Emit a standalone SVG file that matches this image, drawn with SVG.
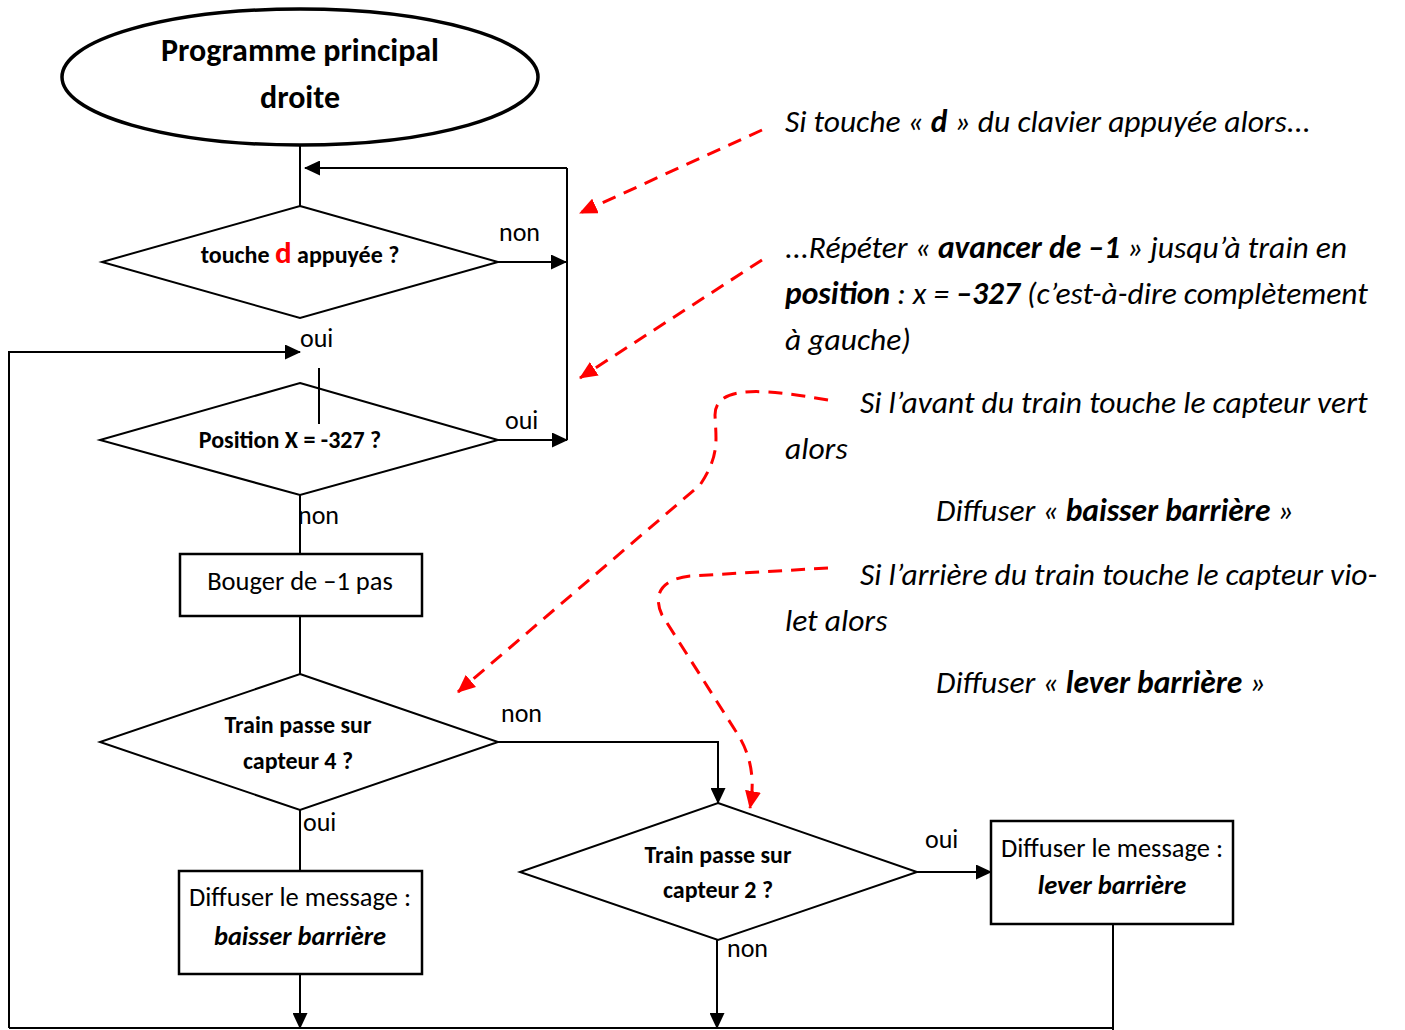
<svg xmlns="http://www.w3.org/2000/svg" width="1405" height="1030" viewBox="0 0 1405 1030">
<style>
text{font-family:Carlito,"Liberation Sans",Arial,sans-serif;fill:#000}
.shape{fill:#fff;stroke:#000;stroke-width:2}
.box{fill:#fff;stroke:#000;stroke-width:2.5}
.q{font-weight:bold;font-size:24px;text-anchor:middle}
.lbl{font-size:26px}
.bt{font-size:26.5px;text-anchor:middle}
.note{font-size:31.5px;font-style:italic}
.ln{fill:none;stroke:#000;stroke-width:2}
.red{fill:none;stroke:#f00;stroke-width:3;stroke-dasharray:14,9}
</style>
<defs>
<marker id="ab" markerWidth="16" markerHeight="15" refX="15" refY="7.5" orient="auto" markerUnits="userSpaceOnUse" viewBox="0 0 16 15"><path d="M0,0L16,7.5L0,15z" fill="#000"/></marker>
<marker id="ar" markerWidth="18" markerHeight="16" refX="17" refY="8" orient="auto" markerUnits="userSpaceOnUse" viewBox="0 0 18 16"><path d="M0,0L18,8L0,16z" fill="#f00"/></marker>
</defs>
<rect width="1405" height="1030" fill="#fff"/>

<g id="start">
<ellipse cx="300" cy="77" rx="238" ry="68" fill="#fff" stroke="#000" stroke-width="3.5"/>
<text x="300" y="61" font-size="32" font-weight="bold" text-anchor="middle">Programme principal</text>
<text x="300" y="108" font-size="32" font-weight="bold" text-anchor="middle">droite</text>
</g>

<g id="d1">
<path class="shape" d="M300,206L498,262L300,318L102,262z"/>
<text class="q" x="300" y="263">touche <tspan fill="#f00" font-size="31">d</tspan> appuyée ?</text>
</g>

<g id="d2">
<path class="shape" d="M300,383L498,440L300,495L100,440z"/>
<text class="q" x="290" y="448">Position X = -327 ?</text>
</g>

<g id="b1">
<rect class="box" x="180" y="554" width="242" height="62"/>
<text class="bt" x="300" y="590">Bouger de –1 pas</text>
</g>

<g id="d3">
<path class="shape" d="M300,674L498,742L300,810L100,742z"/>
<text class="q" x="298" y="733">Train passe sur</text>
<text class="q" x="298" y="769">capteur 4 ?</text>
</g>

<g id="b2">
<rect class="box" x="179" y="871" width="243" height="103"/>
<text class="bt" x="300" y="906">Diffuser le message :</text>
<text class="bt" x="300" y="945" font-weight="bold" font-style="italic">baisser barrière</text>
</g>

<g id="d4">
<path class="shape" d="M718,803L917,872L718,940L520,872z"/>
<text class="q" x="718" y="863">Train passe sur</text>
<text class="q" x="718" y="898">capteur 2 ?</text>
</g>

<g id="b3">
<rect class="box" x="991" y="821" width="242" height="103"/>
<text class="bt" x="1112" y="857">Diffuser le message :</text>
<text class="bt" x="1112" y="894" font-weight="bold" font-style="italic">lever barrière</text>
</g>

<g id="notes">
<text class="note" x="785" y="132">Si touche « <tspan font-weight="bold">d</tspan> » du clavier appuyée alors...</text>
<text class="note" x="785" y="258">...Répéter « <tspan font-weight="bold">avancer de –1</tspan> » jusqu’à train en</text>
<text class="note" x="785" y="304"><tspan font-weight="bold">position</tspan> : x = <tspan font-weight="bold">–327</tspan> (c’est-à-dire complètement</text>
<text class="note" x="785" y="350">à gauche)</text>
<text class="note" x="860" y="413">Si l’avant du train touche le capteur vert</text>
<text class="note" x="785" y="459">alors</text>
<text class="note" x="936" y="521">Diffuser « <tspan font-weight="bold">baisser barrière</tspan> »</text>
<text class="note" x="860" y="585">Si l’arrière du train touche le capteur vio-</text>
<text class="note" x="785" y="631">let alors</text>
<text class="note" x="936" y="693">Diffuser « <tspan font-weight="bold">lever barrière</tspan> »</text>
</g>

<g id="connectors">
<path class="ln" d="M300,145V206"/>
<path class="ln" d="M567,168H305" marker-end="url(#ab)"/>
<path class="ln" d="M567,168V440"/>
<path class="ln" d="M498,262H566" marker-end="url(#ab)"/>
<path class="ln" d="M498,440H567" marker-end="url(#ab)"/>
<path class="ln" d="M9,1028V352H300" marker-end="url(#ab)"/>
<path class="ln" d="M319,368V424" stroke-width="1.5"/>
<path class="ln" d="M300,495V554"/>
<path class="ln" d="M300,616V674"/>
<path class="ln" d="M498,742H718V803" marker-end="url(#ab)"/>
<path class="ln" d="M300,810V871"/>
<path class="ln" d="M300,974V1028" marker-end="url(#ab)"/>
<path class="ln" d="M9,1028H1113"/>
<path class="ln" d="M917,872H991" marker-end="url(#ab)"/>
<path class="ln" d="M717,940V1028" marker-end="url(#ab)"/>
<path class="ln" d="M1113,924V1030"/>
<text class="lbl" x="499" y="241">non</text>
<text class="lbl" x="300" y="347">oui</text>
<text class="lbl" x="505" y="429">oui</text>
<text class="lbl" x="298" y="524">non</text>
<text class="lbl" x="501" y="722">non</text>
<text class="lbl" x="303" y="831">oui</text>
<text class="lbl" x="925" y="848">oui</text>
<text class="lbl" x="727" y="957">non</text>
<path class="red" d="M762,130L580,213" marker-end="url(#ar)"/>
<path class="red" d="M762,260L580,378" marker-end="url(#ar)"/>
<path class="red" d="M828,400C770,390 715,383 715,415C716,440 720,455 700,485L458,692" marker-end="url(#ar)"/>
<path class="red" d="M828,568L690,576C655,580 655,600 662,615L735,730C752,755 755,780 750,808" marker-end="url(#ar)"/>
</g>
</svg>
